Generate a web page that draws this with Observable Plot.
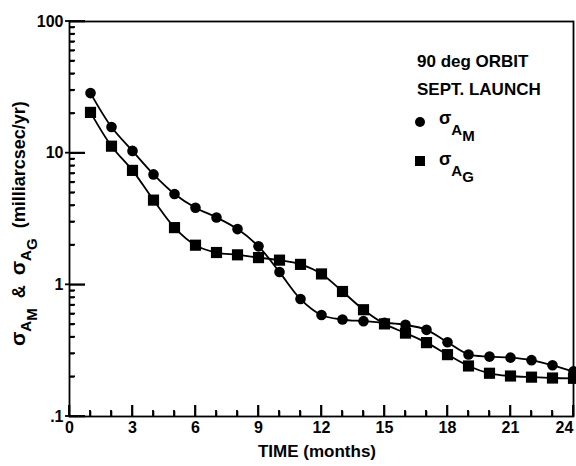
<!DOCTYPE html>
<html><head><meta charset="utf-8">
<script src="https://cdn.jsdelivr.net/npm/d3@7"></script>
<script src="https://cdn.jsdelivr.net/npm/@observablehq/plot@0.6"></script>
<style>body{margin:0;background:#fff;overflow:hidden}</style>
</head><body><div id="chart"></div>
<script>
// ---- data ----
const months = [1,2,3,4,5,6,7,8,9,10,11,12,13,14,15,16,17,18,19,20,21,22,23,24];
const sigmaAM = [28.6,15.8,10.4,6.9,4.9,3.85,3.25,2.65,1.96,1.25,0.78,0.59,0.545,0.53,0.515,0.497,0.455,0.366,0.296,0.285,0.28,0.268,0.245,0.22];
const sigmaAG = [20.4,11.3,7.4,4.4,2.72,2.0,1.76,1.69,1.61,1.54,1.43,1.21,0.89,0.647,0.505,0.43,0.364,0.295,0.242,0.213,0.203,0.199,0.196,0.195];
const xMajorTicks = [0,3,6,9,12,15,18,21,24];
const xMinorTicks = [1,2,4,5,7,8,10,11,13,14,16,17,19,20,22,23];
const yMajorTicks = [0.1,1,10,100];
const yTickLabels = [".1","1","10","100"];
const yMinorTicks = [0.2,0.3,0.4,0.5,0.6,0.7,0.8,0.9,2,3,4,5,6,7,8,9,20,30,40,50,60,70,80,90];
const xAxisLabel = "TIME (months)";
const legendLines = ["90 deg ORBIT","SEPT. LAUNCH"];

const rowsM = months.map((m,i)=>({month:m, value:sigmaAM[i]}));
const rowsG = months.map((m,i)=>({month:m, value:sigmaAG[i]}));

const W=576,H=466,ML=69,MR=3,MT=21,MB=50;
const innerW=W-ML-MR, innerH=H-MT-MB;
const FONT="'Liberation Sans', Arial, Helvetica, sans-serif";
const lastTick = xMajorTicks[xMajorTicks.length-1];

const chart = Plot.plot({
  width:W, height:H, marginLeft:ML, marginRight:MR, marginTop:MT, marginBottom:MB,
  style:{fontFamily:FONT, fontSize:"16px", fontWeight:"bold"},
  x:{domain:[0,24]},
  y:{type:"log", domain:[0.1,100]},
  marks:[
    Plot.frame({strokeWidth:1.8}),
    Plot.tickX(xMinorTicks,{x:d=>d, insetTop:innerH-5, stroke:"black", strokeWidth:1.6}),
    Plot.tickX(xMajorTicks,{x:d=>d, insetTop:innerH-11, stroke:"black", strokeWidth:1.6}),
    Plot.tickY(yMinorTicks,{y:d=>d, insetRight:innerW-5, stroke:"black", strokeWidth:1.6}),
    Plot.tickY(yMajorTicks,{y:d=>d, insetRight:innerW-16, stroke:"black", strokeWidth:1.6}),
    Plot.axisX(xMajorTicks.filter(d=>d!==lastTick),{tickSize:0, tickPadding:5, label:null}),
    Plot.axisX([lastTick],{tickSize:0, tickPadding:5, dx:-9, label:null}),
    Plot.axisY({ticks:yMajorTicks, tickSize:0, tickPadding:6, tickFormat:d=>yTickLabels[yMajorTicks.indexOf(d)], label:null}),
    Plot.line(rowsM,{x:"month", y:"value", curve:"catmull-rom", stroke:"black", strokeWidth:1.8}),
    Plot.line(rowsG,{x:"month", y:"value", curve:"catmull-rom", stroke:"black", strokeWidth:1.8}),
    Plot.dot(rowsM,{x:"month", y:"value", r:5.3, fill:"black", stroke:"none"}),
    Plot.dot(rowsG,{x:"month", y:"value", symbol:"square", r:6.3, fill:"black", stroke:"none"})
  ]
});
document.getElementById("chart").appendChild(chart);

const svg = d3.select(chart);

// x-axis title
svg.append("text").attr("x", ML + innerW/2 - 4).attr("y", H - 9)
  .attr("text-anchor","middle").attr("font-family",FONT).attr("font-weight","bold")
  .attr("font-size",17).attr("fill","black").text(xAxisLabel);

// y-axis label with subscripts
const yl = svg.append("text")
  .attr("transform","translate(25,346) rotate(-90)")
  .attr("text-anchor","start")
  .attr("font-family",FONT).attr("font-weight","bold").attr("font-size",18).attr("fill","black");
function sigmaSub(sel, a, b, big, small){
  sel.append("tspan").attr("font-size",big).text("σ");
  sel.append("tspan").attr("font-size",small).attr("dy",6).text(a);
  sel.append("tspan").attr("font-size",small).attr("dy",6).text(b);
  sel.append("tspan").attr("dy",-12).text("\u00a0");
}
sigmaSub(yl,"A","M",21,15);
yl.append("tspan").text("\u00a0&\u00a0\u00a0");
sigmaSub(yl,"A","G",21,15);
yl.append("tspan").text("\u00a0(milliarcsec/yr)");

// legend
const lg = svg.append("g").attr("font-family",FONT).attr("font-weight","bold").attr("fill","black").attr("text-anchor","start");
legendLines.forEach((t,i)=>{
  lg.append("text").attr("x",417).attr("y",67+28*i).attr("font-size",17).text(t);
});
lg.append("circle").attr("cx",420).attr("cy",122).attr("r",5).attr("fill","black");
lg.append("rect").attr("x",415).attr("y",156).attr("width",10).attr("height",10).attr("fill","black");
function legendLabel(y, sub2){
  const t = lg.append("text").attr("x",439).attr("y",y).attr("font-size",18);
  t.append("tspan").text("σ");
  t.append("tspan").attr("dy",11).attr("font-size",15).text("A");
  t.append("tspan").attr("dy",6).attr("font-size",15).text(sub2);
}
legendLabel(124,"M");
legendLabel(165,"G");

// inward tick marks as filled thin rects, positioned through Plot's own scales
const sx = chart.scale("x"), sy = chart.scale("y");
const yBottom = sy.apply(yMajorTicks[0]);
const xLeft = sx.apply(0);
const tg = svg.append("g").attr("fill","black");
const TW = 1.8;
function vtick(v,len){ const p=sx.apply(v); tg.append("rect").attr("x",p-TW/2).attr("y",yBottom-len).attr("width",TW).attr("height",len); }
function htick(v,len,back){ const p=sy.apply(v); tg.append("rect").attr("x",xLeft-back).attr("y",p-TW/2).attr("width",len+back).attr("height",TW); }
xMinorTicks.forEach(v=>vtick(v,6));
xMajorTicks.forEach(v=>vtick(v,11));
yMinorTicks.forEach(v=>htick(v,6,0));
yMajorTicks.forEach(v=>htick(v,16,4));
</script>
</body></html>
